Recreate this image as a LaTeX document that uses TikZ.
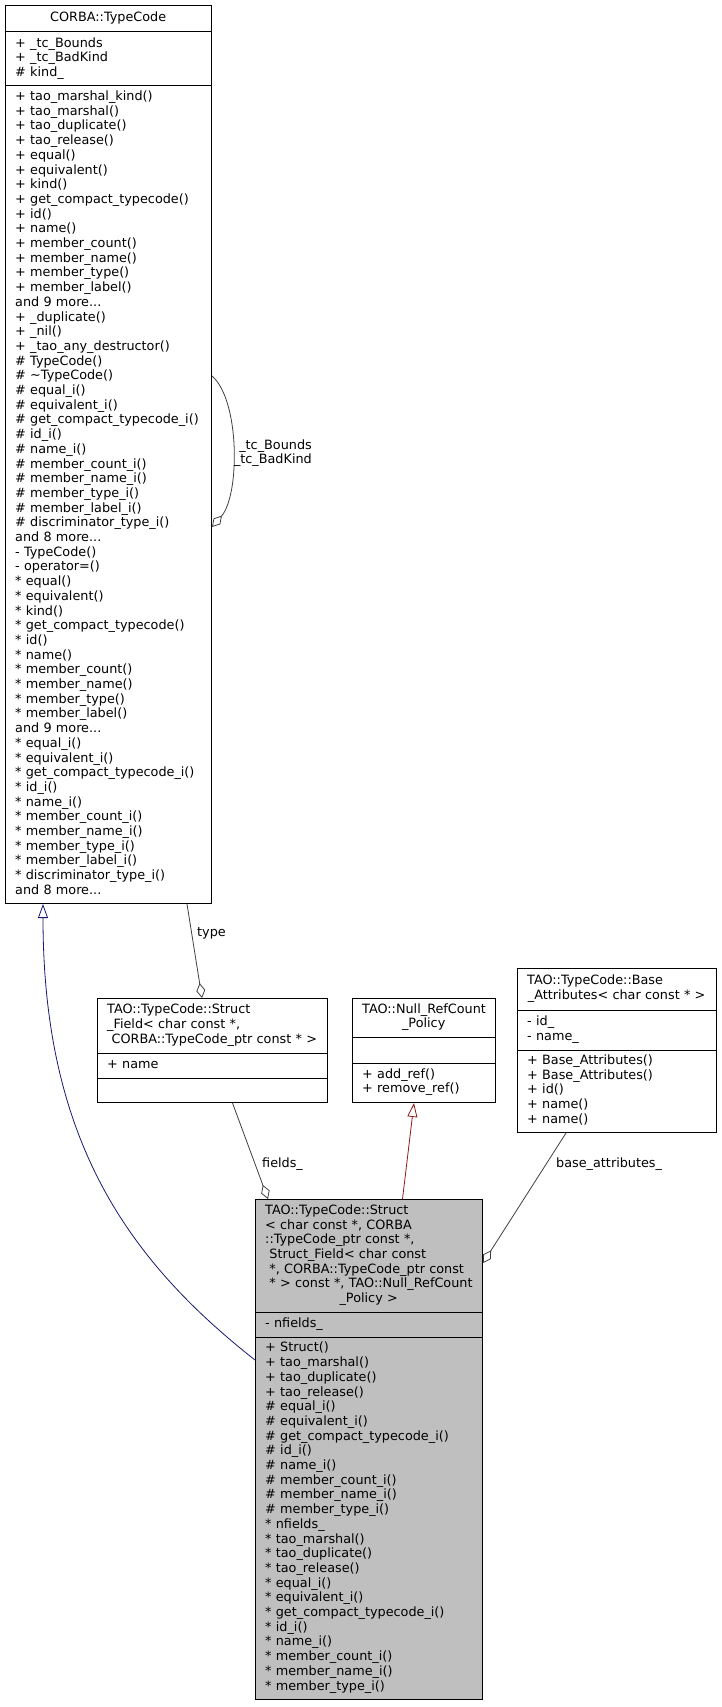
\documentclass[tikz,border=0pt]{standalone}
\usepackage{fontspec}
\setmainfont{DejaVu Sans}
\usetikzlibrary{arrows.meta}
\definecolor{edgegray}{HTML}{404040}
\definecolor{inhblue}{HTML}{191970}
\definecolor{inhred}{HTML}{8B1A1A}
\definecolor{boxgray}{HTML}{BFBFBF}
\newcommand\rl[1]{\strut\mbox{#1}}
\newcommand\rc[1]{\strut\makebox[\linewidth][c]{#1}}
\begin{document}
\begin{tikzpicture}[x=1pt,y=-1pt,
  classbox/.style={draw=black, line width=1pt, inner sep=0pt, anchor=north west},
  sepline/.style={draw=black, line width=1pt},
  txt/.style={font=\fontsize{12.8}{14.7}\selectfont, inner sep=0pt, anchor=west, align=left, text width=#1},
  lbl/.style={font=\fontsize{12.8}{14.7}\selectfont, inner sep=0pt, anchor=west},
  assoc/.style={draw=edgegray, line width=0.8pt, -{Diamond[open,length=15pt,width=9pt]}},
  inhb/.style={draw=inhblue, line width=0.8pt, -{Triangle[open,length=14pt,width=10pt]}},
  inhr/.style={draw=inhred, line width=0.8pt, -{Triangle[open,length=14pt,width=10pt]}}
]
\fill[white] (0,0) rectangle (721,1707);
\useasboundingbox (0,0) rectangle (721,1707);

% ---------------- CORBA::TypeCode
\node[classbox, minimum width=206pt, minimum height=898pt] (tc) at (5,5) {};
\draw[sepline] (tc.west |- 0,32) -- (tc.east |- 0,32);
\draw[sepline] (tc.west |- 0,86) -- (tc.east |- 0,86);
\node[txt=186pt] (tcT) at (15,18.5) {\rc{CORBA::TypeCode}};
\node[txt=186pt] (tcA) at (15,59) {\rl{+ \_tc\_Bounds}\\\rl{+ \_tc\_BadKind}\\\rl{\# kind\_}};
\node[txt=186pt] (tcM) at (15,494.5) {%
\rl{+ tao\_marshal\_kind()}\\
\rl{+ tao\_marshal()}\\
\rl{+ tao\_duplicate()}\\
\rl{+ tao\_release()}\\
\rl{+ equal()}\\
\rl{+ equivalent()}\\
\rl{+ kind()}\\
\rl{+ get\_compact\_typecode()}\\
\rl{+ id()}\\
\rl{+ name()}\\
\rl{+ member\_count()}\\
\rl{+ member\_name()}\\
\rl{+ member\_type()}\\
\rl{+ member\_label()}\\
\rl{and 9 more...}\\
\rl{+ \_duplicate()}\\
\rl{+ \_nil()}\\
\rl{+ \_tao\_any\_destructor()}\\
\rl{\# TypeCode()}\\
\rl{\# \textasciitilde TypeCode()}\\
\rl{\# equal\_i()}\\
\rl{\# equivalent\_i()}\\
\rl{\# get\_compact\_typecode\_i()}\\
\rl{\# id\_i()}\\
\rl{\# name\_i()}\\
\rl{\# member\_count\_i()}\\
\rl{\# member\_name\_i()}\\
\rl{\# member\_type\_i()}\\
\rl{\# member\_label\_i()}\\
\rl{\# discriminator\_type\_i()}\\
\rl{and 8 more...}\\
\rl{- TypeCode()}\\
\rl{- operator=()}\\
\rl{* equal()}\\
\rl{* equivalent()}\\
\rl{* kind()}\\
\rl{* get\_compact\_typecode()}\\
\rl{* id()}\\
\rl{* name()}\\
\rl{* member\_count()}\\
\rl{* member\_name()}\\
\rl{* member\_type()}\\
\rl{* member\_label()}\\
\rl{and 9 more...}\\
\rl{* equal\_i()}\\
\rl{* equivalent\_i()}\\
\rl{* get\_compact\_typecode\_i()}\\
\rl{* id\_i()}\\
\rl{* name\_i()}\\
\rl{* member\_count\_i()}\\
\rl{* member\_name\_i()}\\
\rl{* member\_type\_i()}\\
\rl{* member\_label\_i()}\\
\rl{* discriminator\_type\_i()}\\
\rl{and 8 more...}};

% ---------------- Struct_Field
\node[classbox, minimum width=230pt, minimum height=104pt] (sf) at (97,998) {};
\draw[sepline] (sf.west |- 0,1053) -- (sf.east |- 0,1053);
\draw[sepline] (sf.west |- 0,1078) -- (sf.east |- 0,1078);
\node[txt=210pt] (sfT) at (107,1025.5) {\rl{TAO::TypeCode::Struct}\\\rl{\_Field< char const *,}\\\rc{\ CORBA::TypeCode\_ptr const * >}};
\node[txt=210pt] (sfA) at (107,1065.5) {\rl{+ name}};

% ---------------- Null_RefCount_Policy
\node[classbox, minimum width=143pt, minimum height=104pt] (nr) at (352,998) {};
\draw[sepline] (nr.west |- 0,1037) -- (nr.east |- 0,1037);
\draw[sepline] (nr.west |- 0,1063) -- (nr.east |- 0,1063);
\node[txt=123pt] (nrT) at (362,1017.5) {\rl{TAO::Null\_RefCount}\\\rc{\_Policy}};
\node[txt=123pt] (nrM) at (362,1082.5) {\rl{+ add\_ref()}\\\rl{+ remove\_ref()}};

% ---------------- Base_Attributes
\node[classbox, minimum width=199pt, minimum height=164pt] (ba) at (517,968) {};
\draw[sepline] (ba.west |- 0,1010) -- (ba.east |- 0,1010);
\draw[sepline] (ba.west |- 0,1050) -- (ba.east |- 0,1050);
\node[txt=179pt] (baT) at (527,989) {\rl{TAO::TypeCode::Base}\\\rc{\_Attributes< char const * >}};
\node[txt=179pt] (baA) at (527,1030) {\rl{- id\_}\\\rl{- name\_}};
\node[txt=179pt] (baM) at (527,1091) {\rl{+ Base\_Attributes()}\\\rl{+ Base\_Attributes()}\\\rl{+ id()}\\\rl{+ name()}\\\rl{+ name()}};

% ---------------- Struct (main)
\node[classbox, fill=boxgray, minimum width=227pt, minimum height=500pt] (st) at (255,1199) {};
\draw[sepline] (st.west |- 0,1312) -- (st.east |- 0,1312);
\draw[sepline] (st.west |- 0,1337) -- (st.east |- 0,1337);
\node[txt=207pt] (stT) at (265,1255.5) {%
\rl{TAO::TypeCode::Struct}\\
\rl{< char const *, CORBA}\\
\rl{::TypeCode\_ptr const *,}\\
\rl{\ Struct\_Field< char const}\\
\rl{\ *, CORBA::TypeCode\_ptr const}\\
\rl{\ * > const *, TAO::Null\_RefCount}\\
\rc{\_Policy >}};
\node[txt=207pt] (stA) at (265,1324.5) {\rl{- nfields\_}};
\node[txt=207pt] (stM) at (265,1518) {%
\rl{+ Struct()}\\
\rl{+ tao\_marshal()}\\
\rl{+ tao\_duplicate()}\\
\rl{+ tao\_release()}\\
\rl{\# equal\_i()}\\
\rl{\# equivalent\_i()}\\
\rl{\# get\_compact\_typecode\_i()}\\
\rl{\# id\_i()}\\
\rl{\# name\_i()}\\
\rl{\# member\_count\_i()}\\
\rl{\# member\_name\_i()}\\
\rl{\# member\_type\_i()}\\
\rl{* nfields\_}\\
\rl{* tao\_marshal()}\\
\rl{* tao\_duplicate()}\\
\rl{* tao\_release()}\\
\rl{* equal\_i()}\\
\rl{* equivalent\_i()}\\
\rl{* get\_compact\_typecode\_i()}\\
\rl{* id\_i()}\\
\rl{* name\_i()}\\
\rl{* member\_count\_i()}\\
\rl{* member\_name\_i()}\\
\rl{* member\_type\_i()}};

% ---------------- connectors
\draw[assoc] (tc.east |- 0,376) .. controls (240,400) and (240,495) .. (tc.east |- 0,527);
\node[lbl, anchor=east, align=right] (lbTc) at (312,453.5) {\rl{\_tc\_Bounds}\\\rl{\_tc\_BadKind}};

\draw[assoc] (187,0 |- tc.south) -- (202,0 |- sf.north);
\node[lbl] (lbType) at (197,934) {\rl{type}};

\draw[assoc] (232.5,0 |- sf.south) -- (268,0 |- st.north);
\node[lbl] (lbFields) at (262,1165) {\rl{fields\_}};

\draw[inhr] (402.5,0 |- st.north) -- (414,0 |- nr.south);

\draw[assoc] (566,0 |- ba.south) -- (st.east |- 0,1263);
\node[lbl] (lbBase) at (556,1165) {\rl{base\_attributes\_}};

\draw[inhb] (st.west |- 0,1360) .. controls (128,1260) and (43,1140) .. (43,0 |- tc.south);
\end{tikzpicture}
\end{document}
